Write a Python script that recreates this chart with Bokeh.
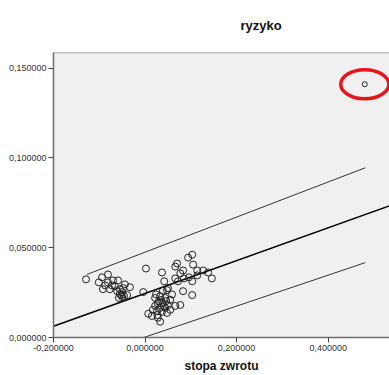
from bokeh.plotting import figure
from bokeh.models import FixedTicker, CustomJSTickFormatter, Range1d, Span
from bokeh.embed import file_html
from bokeh.resources import INLINE

# --- data ---
stopa_zwrotu = [
    -0.129, -0.101, -0.094, -0.081, -0.092, -0.081, -0.070, -0.059, -0.044, -0.033,
    -0.048, -0.066, -0.077, -0.061, -0.055, -0.057, -0.039, -0.050, -0.052, -0.046,
    -0.050, -0.055, -0.072, -0.087,
    -0.004, 0.002, 0.037, 0.042, 0.048, 0.070, 0.066, 0.094, 0.103, 0.105,
    0.083, 0.077, 0.066, 0.072, 0.085, 0.096, 0.103, 0.114, 0.114, 0.127,
    0.138, 0.146, 0.083, 0.103, 0.077, 0.007, 0.028, 0.048,
    0.022, 0.033, 0.044, 0.055, 0.028, 0.039, 0.050, 0.022, 0.033, 0.044,
    0.055, 0.026, 0.037, 0.017, 0.046, 0.035, 0.059, 0.050, 0.039, 0.015,
    0.033, 0.066, 0.024, 0.030, 0.041, 0.027,
]
ryzyko = [
    0.0324, 0.0307, 0.0335, 0.0351, 0.0269, 0.0307, 0.0318, 0.0318, 0.0296, 0.0280,
    0.0275, 0.0285, 0.0269, 0.0258, 0.0242, 0.0220, 0.0236, 0.0253, 0.0236, 0.0231,
    0.0225, 0.0269, 0.0290, 0.0290,
    0.0253, 0.0384, 0.0362, 0.0313, 0.0264, 0.0412, 0.0395, 0.0445, 0.0461, 0.0406,
    0.0373, 0.0357, 0.0329, 0.0313, 0.0329, 0.0335, 0.0313, 0.0373, 0.0346, 0.0373,
    0.0362, 0.0329, 0.0258, 0.0236, 0.0181, 0.0132, 0.0110, 0.0137,
    0.0220, 0.0230, 0.0220, 0.0210, 0.0190, 0.0190, 0.0180, 0.0176, 0.0165, 0.0165,
    0.0154, 0.0148, 0.0143, 0.0154, 0.0203, 0.0209, 0.0240, 0.0275, 0.0260, 0.0120,
    0.0088, 0.0176, 0.0240, 0.0200, 0.0175, 0.0125,
]
outlier_x = [0.480]
outlier_y = [0.1410]

fit_x = [-0.2, 0.56]
fit_y = [0.0062, 0.0757]
pi_x = [-0.127, 0.481]
pi_upper = [0.0351, 0.0945]
pi_lower = [-0.0107, 0.0417]

x_ticks = [-0.2, 0.0, 0.2, 0.4]
x_tick_labels = ["-0,200000", "0,000000", "0,200000", "0,400000"]
y_ticks = [0.0, 0.05, 0.10, 0.15]
y_tick_labels = ["0,000000", "0,050000", "0,100000", "0,150000"]

title_text = "ryzyko"
Y_TOP = 0.1587

p = figure(width=389, height=375, output_backend="svg", toolbar_location=None,
           x_range=Range1d(-0.2, 0.534), y_range=Range1d(0.0, Y_TOP),
           min_border_left=53, min_border_right=0, min_border_top=52,
           min_border_bottom=35)
p.background_fill_color = "#f0f0f0"
p.border_fill_color = "white"
p.outline_line_color = None
p.grid.visible = False
p.add_layout(Span(location=Y_TOP, dimension="width", line_color="#8c8c8c", line_width=1.5))

p.title.text = title_text + "\n "
p.title.align = "left"
p.title.offset = 187
p.title.standoff = 10
p.title.text_font = "Liberation Sans"
p.title.text_font_size = "13px"
p.title.text_font_style = "bold"
p.title.text_color = "#111111"

fmt_code = """
let best = 0; let bd = Infinity;
for (let i = 0; i < tv.length; i++) {
  const d = Math.abs(tv[i] - tick);
  if (d < bd) { bd = d; best = i; }
}
return tl[best];
"""
p.xaxis.ticker = FixedTicker(ticks=x_ticks)
p.xaxis.formatter = CustomJSTickFormatter(args=dict(tv=x_ticks, tl=x_tick_labels), code=fmt_code)
p.yaxis.ticker = FixedTicker(ticks=y_ticks)
p.yaxis.formatter = CustomJSTickFormatter(args=dict(tv=y_ticks, tl=y_tick_labels), code=fmt_code)

for ax in (p.xaxis, p.yaxis):
    ax.axis_line_color = "#6e6e6e"
    ax.axis_line_width = 1.5
    ax.major_tick_line_color = "#444444"
    ax.major_tick_out = 5
    ax.major_tick_in = 0
    ax.minor_tick_line_color = None
    ax.major_label_text_font = "Liberation Sans"
    ax.major_label_text_font_size = "9px"
    ax.major_label_text_color = "#333333"
    ax.major_label_standoff = 2

p.xaxis.axis_label = "stopa zwrotu"
p.xaxis.axis_label_text_font = "Liberation Sans"
p.xaxis.axis_label_text_font_size = "12px"
p.xaxis.axis_label_text_font_style = "bold"
p.xaxis.axis_label_text_color = "#111111"
p.xaxis.axis_label_standoff = 5

p.line(fit_x, fit_y, line_color="black", line_width=1.6)
p.line(pi_x, pi_upper, line_color="#333333", line_width=1)
p.line(pi_x, pi_lower, line_color="#333333", line_width=1)

p.scatter(stopa_zwrotu, ryzyko, marker="circle", size=7, fill_color=None,
          line_color="#222222", line_width=1)
p.scatter(outlier_x, outlier_y, marker="circle", size=5, fill_color=None,
          line_color="#222222", line_width=1)

p.ellipse(outlier_x, outlier_y, width=48, height=29, width_units="screen",
          height_units="screen", fill_color=None, line_color="#e8141c", line_width=3.5)

open("out.html", "w").write(file_html(p, INLINE))
